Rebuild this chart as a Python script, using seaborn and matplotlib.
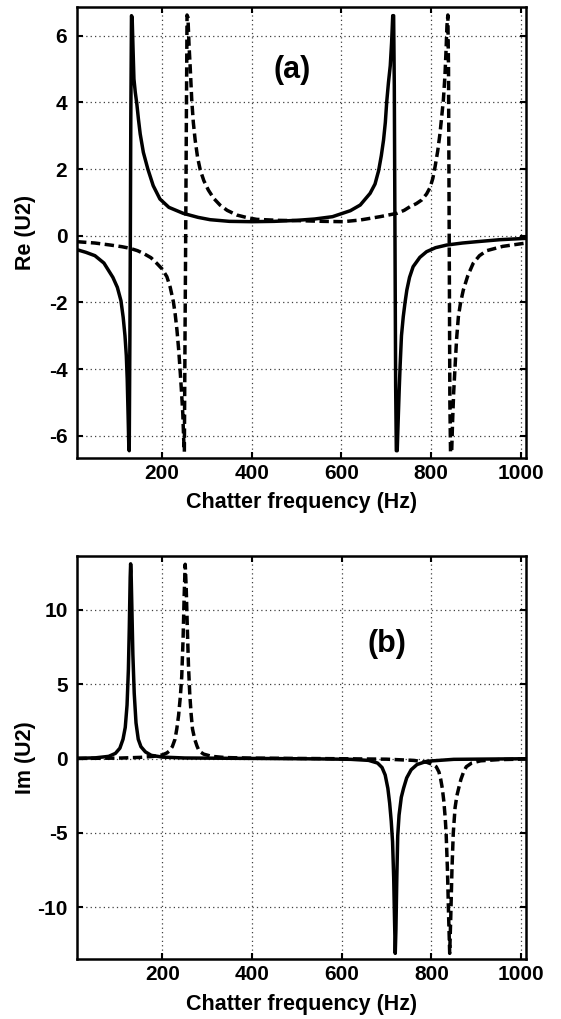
import matplotlib
matplotlib.use("Agg")
import matplotlib.pyplot as plt
import seaborn as sns

# ---------------- data ----------------
# Panel (a): real part, solid curve
re_solid_hz = [10, 30, 50, 70, 90, 100, 108, 113, 117, 120, 122, 124, 125.5, 126.5, 128, 129, 130,
               131.5, 133, 135, 137, 140, 143.5, 147, 151, 158, 168, 180, 195, 215, 247, 280, 307,
               350, 400, 450, 500, 540, 580, 620, 642, 664, 675, 683, 689, 694, 698, 701, 705, 709,
               712, 714.5, 716.5, 718, 719.5, 721, 722.5, 724.5, 726.5, 729, 731, 734, 738, 742, 746,
               752, 760, 775, 790, 810, 835, 870, 902, 954, 1012]
re_solid = [-0.42, -0.5, -0.6, -0.82, -1.25, -1.55, -1.95, -2.45, -3.0, -3.6, -4.3, -5.4, -6.3, -6.45,
            -3.0, 0.0, 3.5, 6.6, 6.55, 5.6, 4.7, 4.3, 3.95, 3.5, 3.05, 2.5, 2.0, 1.5, 1.1, 0.85, 0.67,
            0.55, 0.48, 0.43, 0.42, 0.43, 0.46, 0.5, 0.57, 0.75, 0.92, 1.27, 1.55, 1.95, 2.4, 2.87,
            3.4, 4.0, 4.6, 5.1, 5.8, 6.6, 6.6, 4.5, 0.0, -4.5, -6.45, -6.45, -5.6, -4.6, -3.9, -3.0,
            -2.43, -2.0, -1.63, -1.25, -0.93, -0.65, -0.48, -0.36, -0.28, -0.22, -0.18, -0.12, -0.08]

# Panel (a): real part, dashed curve
re_dashed_hz = [10, 50, 84, 110, 128.6, 145, 158, 175, 188, 200, 210.5, 218, 225, 229, 233, 237, 240,
                243, 246, 248, 249.5, 251, 252.5, 254, 255.5, 257.5, 260, 262.5, 266, 269.5, 273.6,
                279, 285, 293, 303, 315, 329, 345, 366.6, 390, 411, 460, 508, 560, 604, 641.7, 686,
                723.5, 740, 753, 767, 779, 790, 798, 804, 809, 815, 820, 824, 827.5, 831, 833.5,
                835.5, 837.5, 839, 840.5, 842, 843.5, 846, 848, 850.5, 853.6, 857, 861, 866, 872,
                882, 894, 908, 924, 960, 1012]
re_dashed = [-0.18, -0.22, -0.28, -0.33, -0.38, -0.45, -0.53, -0.66, -0.83, -1.0, -1.23, -1.55, -1.98,
             -2.35, -2.83, -3.45, -4.03, -4.65, -5.33, -6.1, -6.48, -3.0, 0.0, 3.5, 6.62, 6.55, 5.7,
             5.07, 4.07, 3.4, 2.87, 2.35, 1.97, 1.65, 1.37, 1.12, 0.92, 0.76, 0.62, 0.54, 0.49, 0.46,
             0.45, 0.43, 0.42, 0.47, 0.57, 0.67, 0.76, 0.87, 0.96, 1.07, 1.25, 1.45, 1.72, 2.07, 2.55,
             3.07, 3.6, 4.07, 4.8, 5.57, 6.3, 6.62, 5.0, 0.0, -5.0, -6.5, -6.5, -5.6, -4.7, -3.93,
             -3.1, -2.43, -2.0, -1.63, -1.2, -0.83, -0.6, -0.45, -0.32, -0.22]

# Panel (b): imaginary part, solid curve
im_solid_hz = [10, 50, 80, 95, 105, 112, 117, 121, 124, 126, 128, 129, 130, 132, 134, 137, 141, 146,
               152, 162, 175, 200, 250, 350, 450, 550, 620, 660, 680, 690, 697, 703, 707, 710.5,
               713.5, 716, 718, 719.5, 721, 723, 725, 728, 733, 738, 745, 755, 768, 790, 850, 1012]
im_solid = [0.02, 0.05, 0.15, 0.35, 0.7, 1.3, 2.1, 3.6, 6.0, 8.8, 12.2, 13.1, 12.6, 9.8, 7.0, 4.4,
            2.4, 1.3, 0.8, 0.45, 0.22, 0.1, 0.04, 0.02, 0.0, -0.02, -0.05, -0.12, -0.3, -0.6, -1.1,
            -2.0, -3.0, -4.2, -5.6, -8.0, -11.0, -13.1, -11.5, -8.0, -5.2, -3.8, -2.6, -2.0, -1.3,
            -0.75, -0.4, -0.18, -0.05, -0.01]

# Panel (b): imaginary part, dashed curve
im_dashed_hz = [10, 100, 150, 180, 200, 210, 215, 222, 228, 232, 236, 240, 243, 246, 248.5, 250.8,
                253, 255.5, 258, 261, 264, 267, 272, 277, 282, 292, 310, 340, 400, 500, 600, 700,
                760, 790, 805, 811, 817, 821, 824.5, 828, 831, 833, 836, 838.5, 841, 843.5, 846,
                849, 853, 857, 861, 866, 872, 878, 890, 910, 950, 1012]
im_dashed = [0.01, 0.03, 0.08, 0.15, 0.25, 0.38, 0.5, 0.8, 1.3, 2.0, 2.9, 4.2, 5.5, 8.0, 11.0, 13.07,
             11.5, 8.8, 6.3, 4.3, 3.0, 2.0, 1.3, 0.85, 0.5, 0.3, 0.15, 0.07, 0.03, 0.01, -0.01, -0.04,
             -0.12, -0.25, -0.42, -0.55, -0.9, -1.4, -2.0, -2.9, -4.0, -5.0, -7.5, -10.5, -13.1,
             -10.5, -7.5, -5.0, -3.3, -2.5, -2.0, -1.4, -0.9, -0.55, -0.3, -0.15, -0.07, -0.03]

x_ticks = [200, 400, 600, 800, 1000]
re_ticks = [-6, -4, -2, 0, 2, 4, 6]
im_ticks = [-10, -5, 0, 5, 10]
x_label = "Chatter frequency (Hz)"
re_label = "Re (U2)"
im_label = "Im (U2)"

# ---------------- styling ----------------
sns.set_style("ticks")
plt.rcParams['font.family'] = ['Liberation Sans', 'DejaVu Sans']
plt.rcParams['font.weight'] = 'bold'
plt.rcParams['axes.labelweight'] = 'bold'
plt.rcParams['axes.unicode_minus'] = False
plt.rcParams['text.color'] = 'black'
plt.rcParams['axes.labelcolor'] = 'black'
plt.rcParams['xtick.color'] = 'black'
plt.rcParams['ytick.color'] = 'black'

fig = plt.figure(figsize=(5.61, 10.19), dpi=100)
ax1 = fig.add_axes([0.1373, 0.5505, 0.8004, 0.4423])
ax2 = fig.add_axes([0.1378, 0.0586, 0.8004, 0.3961])

LW = 2.5
DASH = (0, (2.7, 1.3))

sns.lineplot(x=re_solid_hz, y=re_solid, ax=ax1, color='black', lw=LW, estimator=None, sort=False)
sns.lineplot(x=re_dashed_hz, y=re_dashed, ax=ax1, color='black', lw=LW, estimator=None, sort=False,
             linestyle=DASH)
sns.lineplot(x=im_solid_hz, y=im_solid, ax=ax2, color='black', lw=LW, estimator=None, sort=False)
sns.lineplot(x=im_dashed_hz, y=im_dashed, ax=ax2, color='black', lw=LW, estimator=None, sort=False,
             linestyle=DASH)


def style(ax, ylim, yticks, ylabel):
    ax.set_xlim(10, 1012)
    ax.set_ylim(*ylim)
    ax.set_xticks(x_ticks)
    ax.set_yticks(yticks)
    ax.set_axisbelow(True)
    ax.grid(True, linestyle=(0, (1, 2.5)), color='0.25', lw=0.9)
    for s in ax.spines.values():
        s.set_linewidth(1.8)
        s.set_color('black')
        s.set_visible(True)
    ax.tick_params(axis='both', direction='in', length=4, width=1.5, top=True, right=True,
                   labelsize=15, colors='black')
    ax.tick_params(axis='x', pad=4)
    ax.tick_params(axis='y', pad=7)
    for lab in ax.get_xticklabels() + ax.get_yticklabels():
        lab.set_fontweight('bold')
    ax.set_xlabel(x_label, fontsize=15.5, fontweight='bold', labelpad=7, color='black')
    ax.set_ylabel(ylabel, fontsize=15.5, fontweight='bold', color='black')
    ax.yaxis.set_label_coords(-0.092, 0.5)


style(ax1, (-6.67, 6.85), re_ticks, re_label)
style(ax2, (-13.5, 13.65), im_ticks, im_label)

ax1.text(489, 4.97, "(a)", fontsize=22, fontweight='bold', ha='center', va='center', color='black')
ax2.text(700, 7.73, "(b)", fontsize=22, fontweight='bold', ha='center', va='center', color='black')

fig.savefig("out.png", dpi=100)
